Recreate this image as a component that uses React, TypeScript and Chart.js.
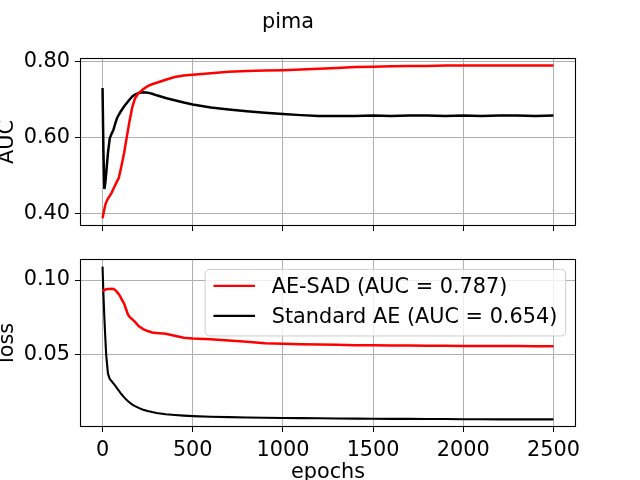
import React, { useEffect, useRef } from "react";
import { Chart, registerables } from "chart.js";

Chart.register(...registerables);

// ---------- data ----------
const epochs = [
  0, 5, 10, 15, 20, 30, 40, 50, 60, 70, 80, 90, 100, 110, 120, 130, 140, 150, 165, 180, 200,
  225, 250, 275, 300, 350, 400, 450, 500, 600, 700, 800, 900, 1000, 1100, 1200, 1300, 1400,
  1500, 1600, 1700, 1800, 1900, 2000, 2100, 2200, 2300, 2400, 2500,
];

const aucAESAD = [
  0.388, 0.4, 0.412, 0.423, 0.43, 0.44, 0.447, 0.455, 0.465, 0.475, 0.485, 0.494, 0.515, 0.537,
  0.561, 0.589, 0.617, 0.644, 0.68, 0.703, 0.717, 0.727, 0.735, 0.74, 0.744, 0.752, 0.759, 0.763,
  0.765, 0.769, 0.773, 0.775, 0.776, 0.777, 0.779, 0.781, 0.783, 0.785, 0.786, 0.787, 0.788,
  0.788, 0.789, 0.789, 0.789, 0.789, 0.789, 0.789, 0.789,
];

const aucStandard = [
  0.73, 0.56, 0.465, 0.48, 0.505, 0.56, 0.598, 0.61, 0.62, 0.636, 0.651, 0.66, 0.668, 0.675,
  0.682, 0.688, 0.694, 0.7, 0.708, 0.713, 0.717, 0.719, 0.718, 0.715, 0.711, 0.704, 0.698, 0.692,
  0.687, 0.679, 0.674, 0.669, 0.665, 0.662, 0.659, 0.657, 0.657, 0.657, 0.658, 0.657, 0.658,
  0.658, 0.657, 0.658, 0.657, 0.658, 0.658, 0.657, 0.658,
];

const lossAESAD = [
  0.0925, 0.0928, 0.0932, 0.0935, 0.0938, 0.094, 0.094, 0.0941, 0.094, 0.0933, 0.092, 0.0905,
  0.0885, 0.0862, 0.084, 0.0805, 0.077, 0.0752, 0.0735, 0.0718, 0.069, 0.067, 0.0657, 0.0647,
  0.0643, 0.0638, 0.0625, 0.0612, 0.0607, 0.0601, 0.0594, 0.0585, 0.0575, 0.0571, 0.0568,
  0.0566, 0.0564, 0.0562, 0.0561, 0.056, 0.0559, 0.0558, 0.0558, 0.0557, 0.0557, 0.0556,
  0.0556, 0.0555, 0.0555,
];

const lossStandard = [
  0.109, 0.09, 0.075, 0.062, 0.05, 0.037, 0.0335, 0.032, 0.0305, 0.029, 0.0273, 0.0257, 0.024,
  0.0225, 0.0211, 0.0198, 0.0187, 0.0176, 0.0162, 0.0152, 0.014, 0.0128, 0.0119, 0.0112,
  0.0106, 0.0097, 0.0092, 0.0088, 0.0085, 0.0081, 0.0078, 0.0076, 0.0074, 0.0072, 0.0071,
  0.007, 0.0069, 0.0068, 0.0067, 0.0066, 0.0066, 0.0065, 0.0065, 0.0064, 0.0064, 0.0063,
  0.0063, 0.0063, 0.0063,
];

const seriesLabels = ["AE-SAD (AUC = 0.787)", "Standard AE (AUC = 0.654)"];
const seriesColors = ["#ff0000", "#000000"];
const xTicks = [0, 500, 1000, 1500, 2000, 2500];
const aucTicks = [0.4, 0.6, 0.8];
const lossTicks = [0.05, 0.1];
const figTitle = "pima";
const xLabel = "epochs";
const aucLabel = "AUC";
const lossLabel = "loss";

// ---------- styling ----------
const FS = 20.8;
const FONT = "'DejaVu Sans', sans-serif";
const GRID = "#b0b0b0";

Chart.defaults.font.family = FONT;
Chart.defaults.font.size = FS;
Chart.defaults.color = "#000";

function range(arrs: number[][], frac = 0.05) {
  let lo = Infinity;
  let hi = -Infinity;
  arrs.forEach((a) => a.forEach((v) => { lo = Math.min(lo, v); hi = Math.max(hi, v); }));
  const m = (hi - lo) * frac;
  return { min: lo - m, max: hi + m };
}

const pts = (ys: number[]) => ys.map((y, i) => ({ x: epochs[i], y }));

const spinePlugin = {
  id: "spines",
  afterDraw(chart: any) {
    const { ctx, chartArea: a } = chart;
    ctx.save();
    ctx.strokeStyle = "#000";
    ctx.lineWidth = 1.1;
    const l = Math.round(a.left) + 0.5;
    const t = Math.round(a.top) + 0.5;
    const r = Math.round(a.right) - 0.5;
    const b = Math.round(a.bottom) - 0.5;
    ctx.strokeRect(l, t, r - l, b - t);
    ctx.restore();
  },
};

const legendPlugin = {
  id: "mplLegend",
  afterDatasetsDraw(chart: any) {
    const { ctx, chartArea: a } = chart;
    const ds = chart.data.datasets;
    ctx.save();
    ctx.font = `${FS}px ${FONT}`;
    let tw = 0;
    ds.forEach((d: any) => { tw = Math.max(tw, ctx.measureText(d.label).width); });
    const w = 3.6 * FS + tw;
    const h = 3.2 * FS;
    const right = a.right - 0.5 * FS;
    const top = a.top + 0.5 * FS;
    const left = right - w;
    const rad = 0.2 * FS;
    ctx.beginPath();
    ctx.roundRect(left, top, w, h, rad);
    ctx.fillStyle = "rgba(255,255,255,0.8)";
    ctx.fill();
    ctx.strokeStyle = "#cccccc";
    ctx.lineWidth = 1;
    ctx.stroke();
    ds.forEach((d: any, i: number) => {
      const yc = top + 16.5 + i * 30;
      ctx.beginPath();
      ctx.strokeStyle = d.borderColor;
      ctx.lineWidth = 2.1;
      ctx.moveTo(left + 0.4 * FS, yc);
      ctx.lineTo(left + 2.4 * FS, yc);
      ctx.stroke();
      ctx.fillStyle = "#000";
      ctx.textBaseline = "alphabetic";
      ctx.textAlign = "left";
      ctx.fillText(d.label, left + 3.2 * FS, top + 23.2 + i * 30);
    });
    ctx.restore();
  },
};

function xAxis(showLabels: boolean, height: number) {
  return {
    type: "linear" as const,
    min: -125,
    max: 2625,
    afterBuildTicks: (s: any) => { s.ticks = xTicks.map((v) => ({ value: v })); },
    afterFit: (s: any) => { s.height = height; },
    ticks: {
      display: showLabels,
      callback: (v: any) => String(v),
      color: "#000",
      font: { size: FS },
      padding: 6,
      maxRotation: 0,
    },
    grid: { color: GRID, lineWidth: 1, tickColor: "#000", tickLength: 5, drawTicks: true },
    border: { display: false },
    title: showLabels
      ? { display: true, text: xLabel, color: "#000", font: { size: FS, lineHeight: 1 }, padding: { top: 0, bottom: -2.7 } }
      : { display: false },
  };
}

function yAxis(ticks: number[], rng: { min: number; max: number }, label: string) {
  return {
    type: "linear" as const,
    min: rng.min,
    max: rng.max,
    afterBuildTicks: (s: any) => { s.ticks = ticks.map((v) => ({ value: v })); },
    afterFit: (s: any) => { s.width = 80; },
    ticks: { callback: (v: any) => Number(v).toFixed(2), color: "#000", font: { size: FS }, padding: 5 },
    grid: { color: GRID, lineWidth: 1, tickColor: "#000", tickLength: 5, drawTicks: true },
    border: { display: false },
    title: { display: true, text: label, color: "#000", font: { size: FS, lineHeight: 1 }, padding: { top: -2.4, bottom: 0 } },
  };
}

export default function App() {
  const topRef = useRef<HTMLCanvasElement>(null);
  const botRef = useRef<HTMLCanvasElement>(null);

  useEffect(() => {
    const aucRange = range([aucAESAD, aucStandard]);
    const lossRange = range([lossAESAD, lossStandard]);

    const top = new Chart(topRef.current!, {
      type: "line",
      data: {
        datasets: [
          { label: seriesLabels[0], data: pts(aucAESAD), borderColor: seriesColors[0], borderWidth: 2.5, pointRadius: 0, tension: 0 },
          { label: seriesLabels[1], data: pts(aucStandard), borderColor: seriesColors[1], borderWidth: 2.5, pointRadius: 0, tension: 0 },
        ],
      },
      options: {
        animation: false,
        responsive: false,
        maintainAspectRatio: false,
        layout: { padding: { left: 0, right: 64, top: 0, bottom: 244 } },
        plugins: {
          legend: { display: false },
          tooltip: { enabled: false },
          title: {
            display: true,
            text: figTitle,
            color: "#000",
            font: { size: FS, weight: "normal", lineHeight: 1.2 },
            padding: { top: 9.8, bottom: 23.2 },
          },
        },
        scales: { x: xAxis(false, 10), y: yAxis(aucTicks, aucRange, aucLabel) },
      } as any,
      plugins: [spinePlugin],
    });

    const bot = new Chart(botRef.current!, {
      type: "line",
      data: {
        datasets: [
          { label: seriesLabels[0], data: pts(lossAESAD), borderColor: seriesColors[0], borderWidth: 2.5, pointRadius: 0, tension: 0 },
          { label: seriesLabels[1], data: pts(lossStandard), borderColor: seriesColors[1], borderWidth: 2.1, pointRadius: 0, tension: 0 },
        ],
      },
      options: {
        animation: false,
        responsive: false,
        maintainAspectRatio: false,
        layout: { padding: { left: 0, right: 64, top: 259, bottom: 0 } },
        plugins: { legend: { display: false }, tooltip: { enabled: false }, title: { display: false } },
        scales: { x: xAxis(true, 53), y: yAxis(lossTicks, lossRange, lossLabel) },
      } as any,
      plugins: [spinePlugin, legendPlugin],
    });

    return () => {
      top.destroy();
      bot.destroy();
    };
  }, []);

  const cs: React.CSSProperties = { position: "absolute", left: 0, top: 0, width: 640, height: 480 };
  return (
    <div style={{ position: "absolute", left: 0, top: 0, width: 640, height: 480, background: "#fff" }}>
      <canvas ref={topRef} width={640} height={480} style={cs} />
      <canvas ref={botRef} width={640} height={480} style={cs} />
    </div>
  );
}
